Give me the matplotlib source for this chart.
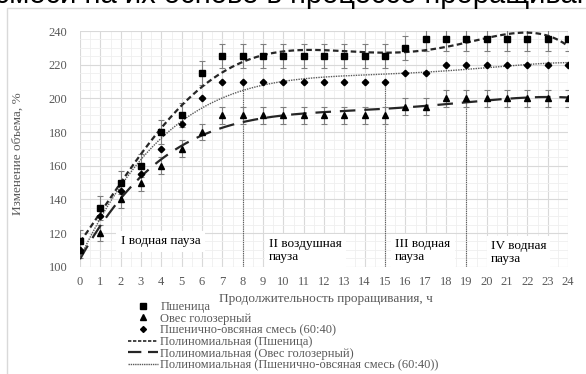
import numpy as np
import matplotlib.pyplot as plt
from matplotlib.patches import Rectangle
from matplotlib.lines import Line2D
from matplotlib.ticker import MultipleLocator

plt.rcParams['font.family'] = ['Liberation Serif', 'DejaVu Serif']

hours = list(range(25))
wheat = [115, 135, 150, 160, 180, 190, 215, 225, 225, 225, 225, 225, 225,
         225, 225, 225, 230, 235, 235, 235, 235, 235, 235, 235, 235]
oat = [110, 120, 140, 150, 160, 170, 180, 190, 190, 190, 190, 190, 190,
       190, 190, 190, 195, 195, 200, 200, 200, 200, 200, 200, 200]
mix = [110, 130, 145, 155, 170, 185, 200, 210, 210, 210, 210, 210, 210,
       210, 210, 210, 215, 215, 220, 220, 220, 220, 220, 220, 220]
wheat_err = 7
oat_err = 5

pause_bounds = [8, 15, 19]
pause_tops = [210, 210, 200]
pause_labels = ['I водная пауза', 'II воздушная\nпауза', 'III водная\nпауза', 'IV водная\nпауза']

legend_labels = ['Пшеница', 'Овес голозерный', 'Пшенично-овсяная смесь (60:40)',
                 'Полиномиальная (Пшеница)', 'Полиномиальная (Овес голозерный)',
                 'Полиномиальная (Пшенично-овсяная смесь (60:40))']

W, H = 586, 374
fig = plt.figure(figsize=(W / 100, H / 100), dpi=100)
ax = fig.add_axes([80 / W, 1 - 266.7 / H, 488 / W, 235.7 / H])

# document text cut at the top
fig.text(625 / W, 1 - 3 / H, 'зерносмеси на их основе в процессе проращивания',
         fontsize=21, family='Liberation Sans', va='baseline', ha='right')
fig.patches.append(Rectangle((7 / W, -0.1), 1.2, 1.1 - 8 / H, transform=fig.transFigure,
                             facecolor='none', edgecolor='#d9d9d9', lw=1))

# polynomial trend lines
x = np.array(hours)
xs = np.linspace(0, 24, 300)
fit_w = np.polyval(np.polyfit(x, wheat, 5), xs)
fit_o = np.polyval(np.polyfit(x, oat, 4), xs)
fit_m = np.polyval(np.polyfit(x, mix, 4), xs)

ax.errorbar(hours, wheat, yerr=wheat_err, fmt='none', ecolor='#7f7f7f', elinewidth=0.8,
            capsize=2.5, capthick=0.8, zorder=3)
ax.errorbar(hours, oat, yerr=oat_err, fmt='none', ecolor='#7f7f7f', elinewidth=0.8,
            capsize=2.5, capthick=0.8, zorder=3)
ax.plot(hours, wheat, 's', color='black', ms=5, zorder=5)
ax.plot(hours, oat, '^', color='black', ms=5, zorder=5)
ax.plot(hours, mix, 'D', color='black', ms=3.3, zorder=5)

ax.plot(xs, fit_w, color='#262626', lw=1.6, dashes=(2.5, 1.5), zorder=4)
ax.plot(xs, fit_o, color='#262626', lw=1.6, dashes=(7, 4), zorder=4)
ax.plot(xs, fit_m, color='#595959', lw=1.0, dashes=(1, 0.8), zorder=4)

for xb, yt in zip(pause_bounds, pause_tops):
    ax.plot([xb, xb], [100, yt], color='#595959', lw=0.8, ls=(0, (1, 1)), zorder=2)

box = dict(facecolor='white', edgecolor='none', pad=3)
ax.text(2.0, 115, pause_labels[0], fontsize=9.5, va='center', ha='left', bbox=box, zorder=6)
ax.text(9.3, 109.5, pause_labels[1], fontsize=9.5, va='center', ha='left', bbox=box,
        linespacing=1.1, zorder=6)
ax.text(15.5, 109.5, pause_labels[2], fontsize=9.5, va='center', ha='left', bbox=box,
        linespacing=1.1, zorder=6)
ax.text(20.2, 108.5, pause_labels[3], fontsize=9.5, va='center', ha='left', bbox=box,
        linespacing=1.1, zorder=6)

ax.set_xlim(0, 24)
ax.set_ylim(100, 240)
ax.set_xticks(hours)
ax.set_yticks(range(100, 241, 20))
ax.xaxis.set_minor_locator(MultipleLocator(0.5))
ax.yaxis.set_minor_locator(MultipleLocator(5))
ax.grid(True, which='major', color='#d9d9d9', lw=0.8)
ax.grid(True, which='minor', color='#efefef', lw=0.6)
ax.set_axisbelow(True)
for s in ax.spines.values():
    s.set_visible(False)
ax.tick_params(which='both', length=0, colors='#595959', labelsize=9)
ax.tick_params(axis='x', pad=7)
ax.tick_params(axis='y', pad=9)

ax.set_xlabel('Продолжительность проращивания, ч', fontsize=9.5, color='#595959')
ax.xaxis.set_label_coords(0.504, -0.11)
ax.set_ylabel('Изменение объема, %', fontsize=9.5, color='#595959')
ax.yaxis.set_label_coords(-0.115, 0.48)

handles = [
    Line2D([], [], ls='none', marker='s', color='black', ms=4),
    Line2D([], [], ls='none', marker='^', color='black', ms=4),
    Line2D([], [], ls='none', marker='D', color='black', ms=3),
    Line2D([], [], color='#262626', lw=1.2, dashes=(2, 1)),
    Line2D([], [], color='#262626', lw=1.6, dashes=(6, 3)),
    Line2D([], [], color='#595959', lw=1.0, dashes=(1, 0.6)),
]
leg = fig.legend(handles, legend_labels, loc='upper left', bbox_to_anchor=(128 / W, 1 - 301 / H),
                 frameon=False, fontsize=9, handlelength=2.4, handletextpad=0.2,
                 labelspacing=-0.03, borderpad=0, borderaxespad=0, numpoints=1)
for t in leg.get_texts():
    t.set_color('#595959')

fig.savefig('out.png', dpi=100)
